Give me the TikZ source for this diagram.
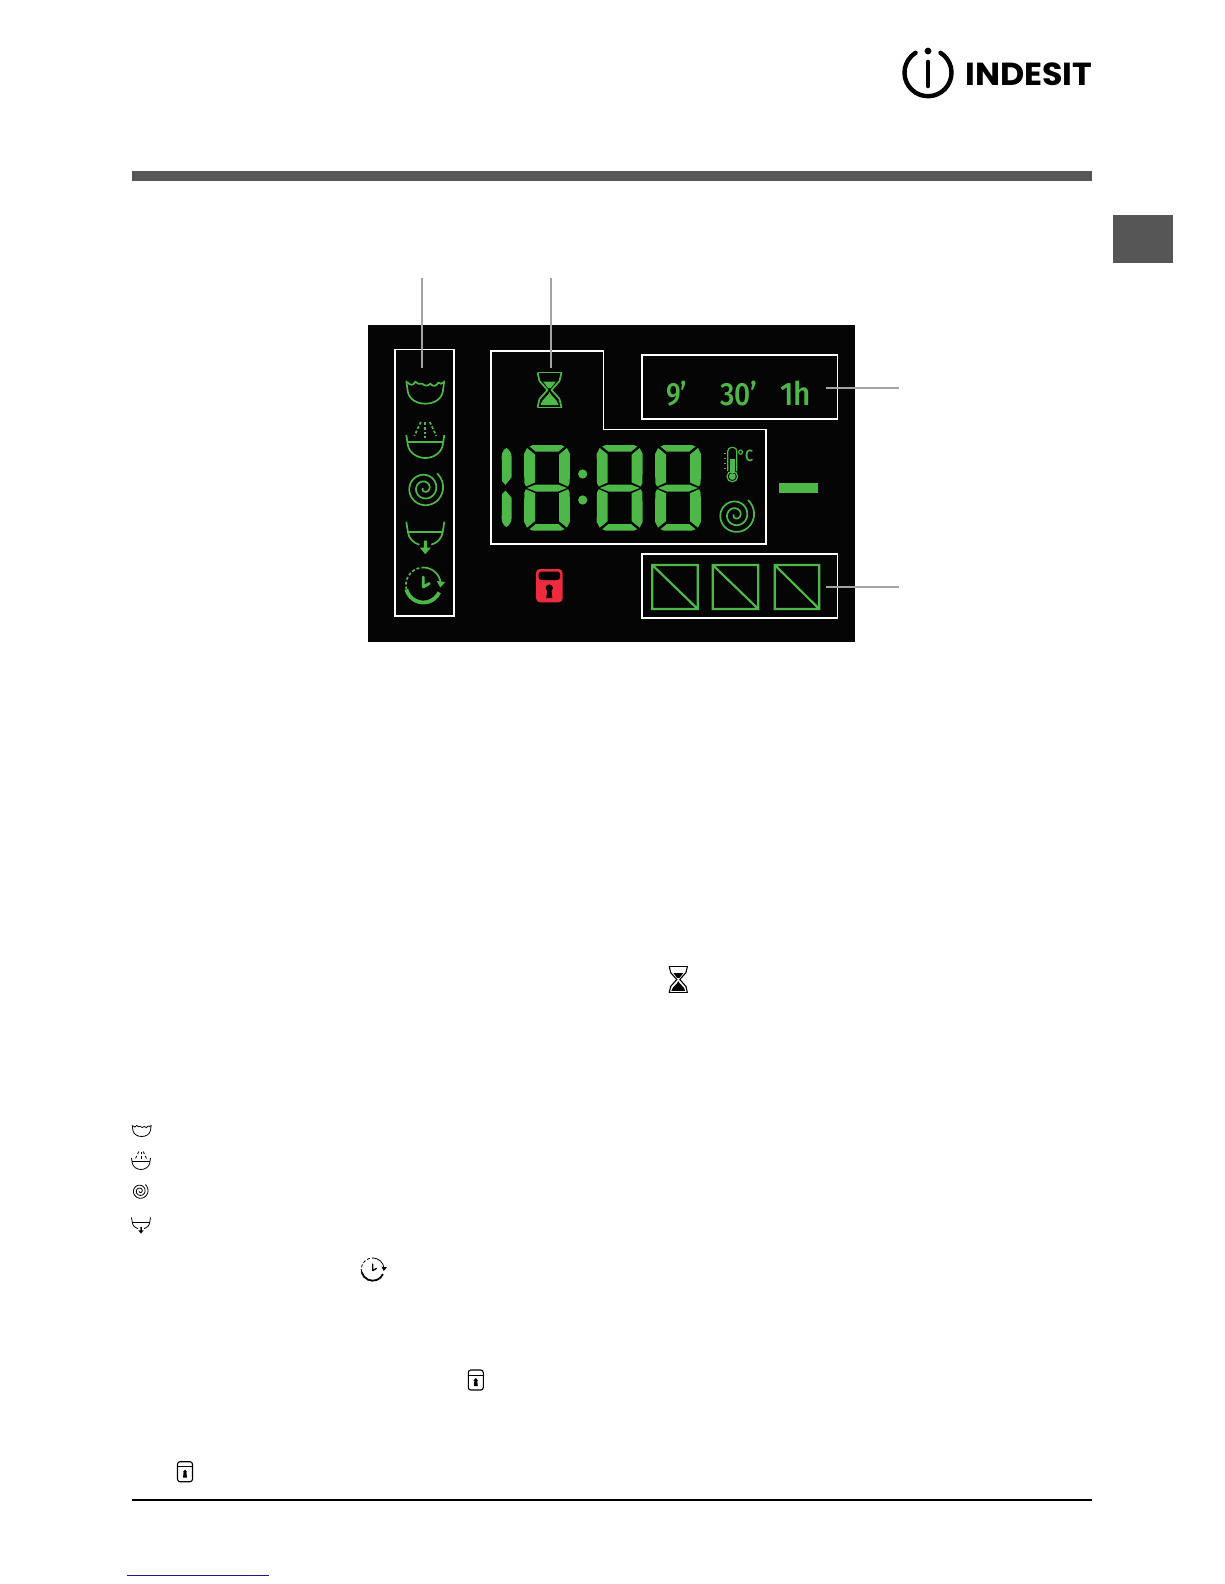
\documentclass[tikz,border=0pt]{standalone}
\usepackage{graphicx}
\usepackage{fontspec}
\setmainfont{Fira Sans}
\newfontfamily\logofont{Poppins}
\definecolor{lcdgreen}{HTML}{4DB848}
\definecolor{barg}{HTML}{565656}
\definecolor{leadg}{HTML}{A3A3A3}
\definecolor{lockred}{HTML}{EE2A3E}
\definecolor{linkb}{HTML}{1A1A8C}
\tikzset{
  x=1pt,y=-1pt,
  whitebox/.style={draw=white,line width=1.6pt},
  leader/.style={draw=leadg,line width=1.6pt},
  seg/.style={fill=lcdgreen,draw=none},
  greenicon/.style={color=lcdgreen,line width=1.7pt},
  blackicon/.style={color=black,line width=0.8pt},
  tubicon/.pic={
    \draw (-19,0) -- (-17.5,11) .. controls (-16,19) and (-8,23) .. (0,23) .. controls (8,23) and (16,19) .. (17.5,11) -- (19,0);
    \draw (-18,1.5) .. controls (-15,5) and (-12,5) .. (-10,1) .. controls (-8,3) and (-6,4) .. (-3,3) .. controls (-1,5.5) and (3,5.5) .. (5,3) .. controls (8,6.5) and (11,5.5) .. (13,2) .. controls (15,4) and (17,3) .. (18,1.5);
  },
  rinseicon/.pic={
    \draw (-19,0) -- (-17.5,10) .. controls (-16,18) and (-8,23) .. (0,23) .. controls (8,23) and (16,18) .. (17.5,10) -- (19,0);
    \draw (-18,7) -- (18,7);
    \draw[dash pattern=on 2.8pt off 2pt] (0,-13) -- (0,3);
    \draw[dash pattern=on 2.8pt off 2pt] (-4.5,-13) -- (-11,1);
    \draw[dash pattern=on 2.8pt off 2pt] (4.5,-13) -- (11,1);
  },
  spiralicon/.pic={
    \draw[smooth] plot[domain=0:1,samples=90] ({(19.5*(1-\x)+1.5*\x)*cos(-50+960*\x)},{(19.5*(1-\x)+1.5*\x)*sin(-50+960*\x)});
  },
  drainicon/.pic={
    \draw (-19,0) -- (-17.5,10) .. controls (-16.5,17) and (-12,21) .. (-6,23);
    \draw (19,0) -- (17.5,10) .. controls (16.5,17) and (12,21) .. (6,23);
    \draw (-17.5,10.5) -- (17.5,10.5);
    \fill (-1.5,19) -- (1.5,19) -- (1.5,26) -- (5.5,26) -- (0,32.5) -- (-5.5,26) -- (-1.5,26) -- cycle;
  },
  clockicon/.pic={
    \draw[line width=1.5\pgflinewidth] (25:17.5) arc[start angle=25,end angle=165,radius=17.5];
    \draw[dash pattern=on 3pt off 2pt] (165:17.5) arc[start angle=165,end angle=272,radius=17.5];
    \draw (272:17.5) arc[start angle=272,end angle=355,radius=17.5];
    \fill (13.5,-4) -- (22,-3) -- (17,2.5) -- cycle;
    \draw[line width=1.3\pgflinewidth,line cap=round,line join=round] (0,-8) -- (0,2) -- (6,-1.5);
  },
  hourglassicon/.pic={
    \draw (-12,-17.5) -- (12,-17.5);
    \draw (-12,17.5) -- (12,17.5);
    \draw (-12,-17.5) -- (-10,-9) -- (-2,0) -- (-10,9) -- (-12,17.5);
    \draw (12,-17.5) -- (10,-9) -- (2,0) -- (10,9) -- (12,17.5);
    \fill (-6.5,-8.5) -- (6.5,-8.5) -- (1.5,-2) -- (-1.5,-2) -- cycle;
    \fill (0,2) .. controls (1,6) and (8,9) .. (9,15) -- (-9,15) .. controls (-8,9) and (-1,6) .. (0,2) -- cycle;
  },
  lockoutline/.pic={
    \draw[line width=1.1pt,rounded corners=2.5pt] (-7.5,-10) rectangle (7.5,10);
    \draw[line width=0.9pt] (-7.5,-5) -- (7.5,-5);
    \fill (0,-2) -- (2.4,0.5) -- (1.4,0.5) -- (2,6) -- (-2,6) -- (-1.4,0.5) -- (-2.4,0.5) -- cycle;
  },
  eightdigit/.pic={
    \fill[seg] (5.5,1.5) -- (9,0) -- (37,0) -- (40.5,1.5) -- (34.5,6.5) -- (11.5,6.5) -- cycle;
    \fill[seg] (5.5,84.2) -- (9,85.7) -- (37,85.7) -- (40.5,84.2) -- (34.5,79.2) -- (11.5,79.2) -- cycle;
    \fill[seg] (3,43) -- (12,39.5) -- (34,39.5) -- (43,43) -- (34,46.5) -- (12,46.5) -- cycle;
    \fill[seg] (0,9) -- (3,3) -- (11,9.5) -- (11,37.5) -- (2,41.5) -- (0.3,38) -- cycle;
    \fill[seg] (46,9) -- (43,3) -- (35,9.5) -- (35,37.5) -- (44,41.5) -- (45.7,38) -- cycle;
    \fill[seg] (0,76.7) -- (3,82.7) -- (11,76.2) -- (11,48.2) -- (2,44.2) -- (0.3,47.7) -- cycle;
    \fill[seg] (46,76.7) -- (43,82.7) -- (35,76.2) -- (35,48.2) -- (44,44.2) -- (45.7,47.7) -- cycle;
  }
}
\newfontfamily\lcdfont{Fira Sans Medium}
\begin{document}
\begin{tikzpicture}
\useasboundingbox (0,0) rectangle (1224,1584);
\fill[white] (0,0) rectangle (1224,1584);

% header
\fill[barg] (132,171) rectangle (1092,181);
\fill[barg] (1113,215) rectangle (1172.5,263);
\draw[black,line width=2pt] (132,1500) -- (1092,1500);
\draw[linkb,line width=1pt] (127,1575.5) -- (269,1575.5);

% logo
\draw[black,line width=4.4pt,line cap=round] (928,72.7) ++(-58:23.5) arc[start angle=-58,end angle=238,radius=23.5];
\fill[black] (928,51) circle (3.4);
\draw[black,line width=4.6pt,line cap=round] (928,62) -- (928,86);
\node[anchor=west,inner sep=0pt,text=black] (logo) at (965,74.5)
  {\resizebox{127pt}{22.7pt}{\logofont\bfseries INDESIT}};

% panel
\fill[black!98] (368,325) rectangle (855,642);

% white frames
\draw[whitebox] (394.7,349.3) rectangle (454.2,616);
\draw[whitebox] (490.7,351) -- (603.3,351) -- (603.3,429.3) -- (766,429.3) -- (766,544) -- (490.7,544) -- cycle;
\draw[whitebox] (641.7,354.7) rectangle (837.3,419);
\draw[whitebox] (641.7,554) rectangle (837.3,617.7);

% leaders
\coordinate (la1) at (422,278); \coordinate (la2) at (422,368);
\coordinate (lb1) at (551,278); \coordinate (lb2) at (551,368);
\coordinate (lc1) at (826,387.7); \coordinate (lc2) at (899,387.7);
\coordinate (ld1) at (826,586.7); \coordinate (ld2) at (899,586.7);
\draw[leader] (la1) -- (la2);
\draw[leader] (lb1) -- (lb2);
\draw[leader] (lc1) -- (lc2);
\draw[leader] (ld1) -- (ld2);

% phase icons
\pic[greenicon] at (425.3,380.7) {tubicon};
\pic[greenicon] at (425.3,435) {rinseicon};
\pic[greenicon] at (424.5,488.3) {spiralicon};
\pic[greenicon] at (425.3,521.7) {drainicon};
\pic[greenicon] at (423.3,585) {clockicon};

% hourglass
\pic[greenicon] at (549.5,390) {hourglassicon};

% digits
\fill[seg] (501.7,456) .. controls (502,452) and (504,449) .. (506.5,448) .. controls (509.5,450) and (511.7,453) .. (511.7,458) -- (511.7,477) -- (505.5,485) -- (502,481) -- cycle;
\fill[seg] (501.7,519) .. controls (502,523) and (504,526) .. (506.5,527) .. controls (509.5,525) and (511.7,522) .. (511.7,517) -- (511.7,498) -- (505.5,490.5) -- (502,494) -- cycle;
\pic at (524,445) {eightdigit};
\fill[lcdgreen] (582.7,474) circle (4.6);
\fill[lcdgreen] (582.7,500) circle (4.6);
\pic at (596.7,445) {eightdigit};
\pic at (655,445) {eightdigit};

% thermometer
\draw[lcdgreen,line width=1.2pt,rounded corners=3.5pt] (727.8,471) -- (727.8,447.5) -- (736.8,447.5) -- (736.8,471);
\draw[lcdgreen,line width=1.2pt] (732.3,476.5) circle (5.3);
\fill[lcdgreen] (729.8,459) rectangle (734.8,473);
\fill[lcdgreen] (732.3,476.5) circle (3.4);
\foreach \yy in {453,458,463,468} {\fill[lcdgreen] (723.8,\yy) rectangle (726,\yy+1.2);}
\node[inner sep=0pt,anchor=west,text=lcdgreen] (degc) at (737.5,455.5) {\resizebox{15.5pt}{11.5pt}{\lcdfont °C}};

% spiral right
\pic[greenicon] at (735.5,515) {spiralicon};

% dash
\fill[lcdgreen] (779,483.3) rectangle (818,493);

% time labels
\node[inner sep=0pt,anchor=west,text=lcdgreen] (t9) at (666,394) {\resizebox{21pt}{24.5pt}{\lcdfont 9’}};
\node[inner sep=0pt,anchor=west,text=lcdgreen] (t30) at (720,393) {\resizebox{37pt}{24.5pt}{\lcdfont 30’}};
\node[inner sep=0pt,anchor=west,text=lcdgreen] (t1h) at (780,393) {\resizebox{30.7pt}{24.5pt}{\lcdfont 1h}};

% squares
\draw[lcdgreen,line width=2.2pt] (652.3,565) rectangle (697.7,609) (652.3,565) -- (697.7,609);
\draw[lcdgreen,line width=2.2pt] (712.7,565) rectangle (758.3,609) (712.7,565) -- (758.3,609);
\draw[lcdgreen,line width=2.2pt] (774.7,565) rectangle (819.3,609) (774.7,565) -- (819.3,609);

% red lock
\fill[lockred,rounded corners=4pt] (536,569) rectangle (562.7,602.3);
\fill[black,rounded corners=3pt] (538.5,571.5) -- (560.2,571.5) -- (560.2,580) -- (538.5,580) -- cycle;
\fill[black] (549.3,588) circle (3.6);
\fill[black] (547.4,588) -- (551.2,588) -- (552.3,598) -- (546.3,598) -- cycle;

% text-body small icons
\pic[blackicon,scale=0.5] at (141.7,1125) {tubicon};
\pic[blackicon,scale=0.5] at (141,1158) {rinseicon};
\pic[blackicon,scale=0.43] at (140,1191) {spiralicon};
\pic[blackicon,scale=0.5] at (141,1217.3) {drainicon};
\pic[blackicon,scale=0.65] at (372.7,1269.3) {clockicon};
\pic[line width=1.1pt,scale=0.76,color=black] at (678.3,979.5) {hourglassicon};
\pic[color=black] at (475.8,1380) {lockoutline};
\pic[color=black] at (185,1471.7) {lockoutline};
\end{tikzpicture}
\end{document}
